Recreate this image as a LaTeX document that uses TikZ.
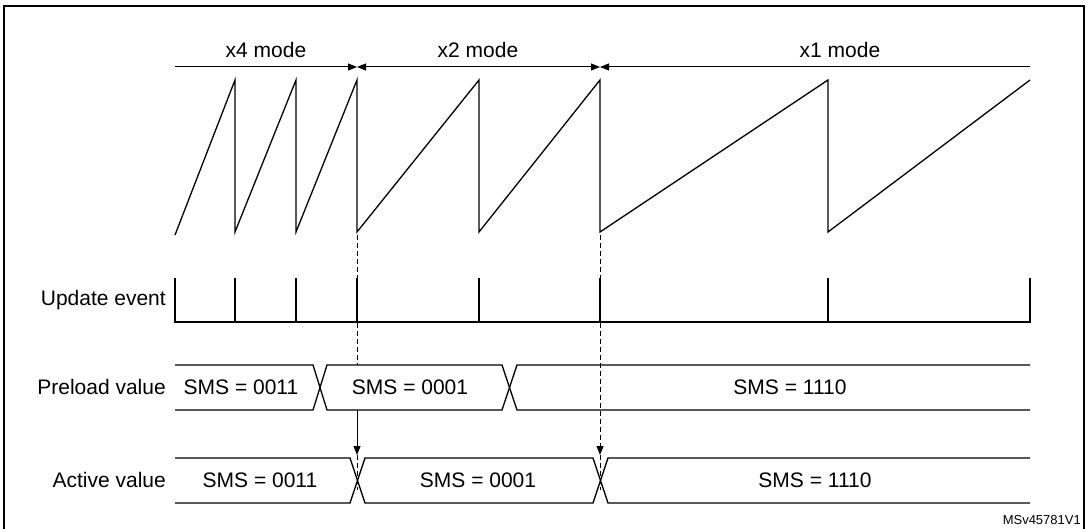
\documentclass[tikz,border=0pt]{standalone}
\usepackage{fontspec}
\setmainfont{Liberation Sans}
\usetikzlibrary{arrows.meta}
\begin{document}
\begin{tikzpicture}[x=1pt,y=-1pt,
  sig/.style={line width=1.3pt},
  lbl/.style={font=\fontsize{21}{24}\selectfont,inner sep=0pt},
  dsh/.style={dashed,line width=0.8pt,dash pattern=on 5pt off 3pt},
  tip/.style={-{Triangle[length=9pt,width=7pt]}}]
\useasboundingbox (0,0) rectangle (1087,529);
\draw[line width=2pt] (4,6) rectangle (1084,530);
% mode arrows
\coordinate (m0) at (175,67); \coordinate (m1) at (357,67);
\coordinate (m2) at (600,67); \coordinate (m3) at (1030,67);
\draw[line width=1pt,tip] (m0) -- (m1);
\draw[line width=1pt,tip] (m3) -- (m2);
\draw[line width=1pt,tip] (479,67) -- (m1);
\draw[line width=1pt,tip] (479,67) -- (m2);
\node[lbl] (t4) at (266,50) {x4 mode};
\node[lbl] (t2) at (478,50) {x2 mode};
\node[lbl] (t1) at (840,50) {x1 mode};
% sawtooth
\draw[sig] (175,235) -- (235,80) -- (235,232) -- (296,80) -- (296,232) -- (357,80) -- (357,232)
  -- (479,80) -- (479,232) -- (600,80) -- (600,232) -- (828,80) -- (828,232) -- (1030,80);
% update event
\node[lbl,anchor=east] (ue) at (166,300) {Update event};
\draw[sig] (175,278) -- (175,322) -- (1030,322) -- (1030,278);
\foreach \x in {235,296,357,479,600,828} \draw[sig] (\x,278) -- (\x,322);
% preload
\node[lbl,anchor=east] (pv) at (166,387) {Preload value};
\draw[sig] (175,365) -- (313,365) -- (327,410) -- (502,410) -- (517,365) -- (1030,365);
\draw[sig] (175,410) -- (313,410) -- (327,365) -- (502,365) -- (517,410) -- (1030,410);
\node[lbl] (p1) at (241,387) {SMS = 0011};
\node[lbl] (p2) at (410,387) {SMS = 0001};
\node[lbl] (p3) at (790,387) {SMS = 1110};
% active
\node[lbl,anchor=east] (av) at (166,480) {Active value};
\draw[sig] (175,458) -- (350,458) -- (365,503) -- (593,503) -- (608,458) -- (1030,458);
\draw[sig] (175,503) -- (350,503) -- (365,458) -- (593,458) -- (608,503) -- (1030,503);
\node[lbl] (a1) at (260,480) {SMS = 0011};
\node[lbl] (a2) at (478,480) {SMS = 0001};
\node[lbl] (a3) at (815,480) {SMS = 1110};
% dashed links
\draw[dsh] (357,235) -- (357,365);
\draw[line width=0.8pt,tip] (357,410) -- (357,455);
\draw[dsh] (357,455) -- (357,490);
\draw[dsh,tip] (600,235) -- (600,455);
\draw[dsh] (600,455) -- (600,490);
\node[font=\fontsize{13}{15}\selectfont,anchor=south east,inner sep=1pt] (id) at (1082,526) {MSv45781V1};
\end{tikzpicture}
\end{document}
